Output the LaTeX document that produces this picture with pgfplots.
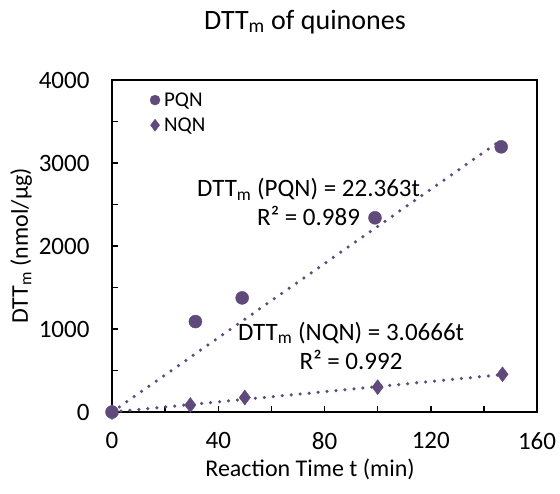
\documentclass[border=0pt]{standalone}
\usepackage{fontspec}
\setmainfont{Carlito}
\usepackage{pgfplots}
\pgfplotsset{compat=1.18}

\definecolor{quin}{RGB}{96,74,123}

\begin{document}
\begin{tikzpicture}
\begin{axis}[
  scale only axis, width=425pt, height=332pt,
  xmin=0, xmax=160, ymin=0, ymax=4000,
  xtick={0,40,...,160}, ytick={0,1000,...,4000},
  minor x tick num=1, minor y tick num=1,
  tick pos=left, tick align=inside,
  major tick length=6pt, minor tick length=6pt,
  every tick/.style={black, line width=1.5pt},
  axis line style={black, line width=1.5pt},
  font=\fontsize{24}{28}\selectfont,
  ticklabel style={font=\fontsize{25}{28}\selectfont},
  /pgf/number format/assume math mode=true,
  /pgf/number format/1000 sep={},
  xticklabel style={yshift=-17pt},
  yticklabel style={xshift=-19pt},
  xlabel={Reaction Time t (min)},
  ylabel={DTT\textsubscript{m} (nmol/µg)},
  xlabel style={at={(axis description cs:0.466,-0.172)}, anchor=center, font=\fontsize{24}{28}\selectfont},
  ylabel style={at={(axis description cs:-0.214,0.5)}, anchor=center, font=\fontsize{24}{28}\selectfont},
  title={DTT\textsubscript{m} of quinones},
  title style={at={(axis description cs:0.454,1.157)}, anchor=center, font=\fontsize{28}{32}\selectfont},
  legend style={draw=none, fill=none, at={(axis description cs:0.082,0.975)}, anchor=north west,
    font=\fontsize{21}{24}\selectfont, row sep=6pt,
    nodes={inner xsep=4pt}},
  legend cell align=left,
  clip=false,
]
% fitted lines through origin
\addplot[forget plot, quin, line width=3.5pt, line cap=round, dash pattern=on 0pt off 9pt]
  coordinates {(0,0) (146,3265)};
\addplot[forget plot, quin, line width=3.5pt, line cap=round, dash pattern=on 0pt off 9pt]
  coordinates {(0,0) (147,451)};
% measured points
\addplot[only marks, mark=*, mark size=6.5pt, quin, legend image post style={mark size=5pt}] coordinates {
  (0,0) (31.4,1090) (49,1375) (99,2340) (146.5,3195)
};
\addlegendentry{PQN}
\addplot[only marks, mark=diamond*, mark size=7.5pt, quin, legend image post style={mark size=6pt}] coordinates {
  (0,0) (29.5,85) (50,175) (100,300) (147,455)
};
\addlegendentry{NQN}
\node[align=center, font=\fontsize{25}{29}\selectfont] at (axis cs:74,2530)
  {DTT\textsubscript{m} (PQN) = 22.363t\\R² = 0.989};
\node[align=center, font=\fontsize{25}{29}\selectfont] at (axis cs:90,800)
  {DTT\textsubscript{m} (NQN) = 3.0666t\\R² = 0.992};
\path (axis description cs:-0.2635,-0.244) rectangle (axis description cs:1.054,1.241);
\end{axis}
\end{tikzpicture}
\end{document}
